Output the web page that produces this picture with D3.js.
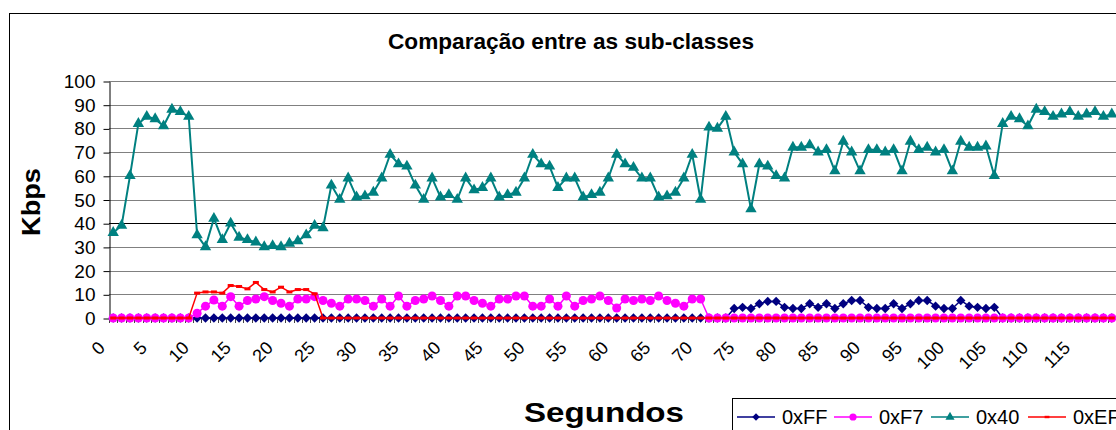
<!DOCTYPE html>
<html>
<head>
<meta charset="utf-8">
<script src="https://cdn.jsdelivr.net/npm/d3@7"></script>
<style>
  body { margin: 0; background: #fff; }
  svg { display: block; }
</style>
</head>
<body>
<script>
'use strict';

// seconds on the category axis
const seconds = [
  0, 1, 2, 3, 4, 5, 6, 7, 8, 9, 10, 11, 12, 13, 14, 15, 16, 17, 18, 19,
  20, 21, 22, 23, 24, 25, 26, 27, 28, 29, 30, 31, 32, 33, 34, 35, 36, 37, 38, 39,
  40, 41, 42, 43, 44, 45, 46, 47, 48, 49, 50, 51, 52, 53, 54, 55, 56, 57, 58, 59,
  60, 61, 62, 63, 64, 65, 66, 67, 68, 69, 70, 71, 72, 73, 74, 75, 76, 77, 78, 79,
  80, 81, 82, 83, 84, 85, 86, 87, 88, 89, 90, 91, 92, 93, 94, 95, 96, 97, 98, 99,
  100, 101, 102, 103, 104, 105, 106, 107, 108, 109, 110, 111, 112, 113, 114, 115, 116, 117, 118, 119
];
const xTickLabels = [0, 5, 10, 15, 20, 25, 30, 35, 40, 45, 50, 55, 60, 65, 70, 75, 80, 85, 90, 95, 100, 105, 110, 115];
const yTicks = [0, 10, 20, 30, 40, 50, 60, 70, 80, 90, 100];

// Kbps per sub-class
const valuesFF = [
  0, 0, 0, 0, 0, 0, 0, 0, 0, 0,
  0, 0, 0, 0, 0, 0, 0, 0, 0, 0,
  0, 0, 0, 0, 0, 0, 0, 0, 0, 0,
  0, 0, 0, 0, 0, 0, 0, 0, 0, 0,
  0, 0, 0, 0, 0, 0, 0, 0, 0, 0,
  0, 0, 0, 0, 0, 0, 0, 0, 0, 0,
  0, 0, 0, 0, 0, 0, 0, 0, 0, 0,
  0, 0, 0, 0, 4, 4.5, 4, 6, 7, 7,
  4.5, 4, 4, 6, 4.5, 6, 4, 6, 7.4, 7.4,
  4.5, 4, 4, 6, 4, 6, 7.4, 7.4, 5, 4,
  4, 7.4, 5, 4.5, 4, 4.5, 0, 0, 0, 0,
  0, 0, 0, 0, 0, 0, 0, 0, 0, 0
];
const valuesF7 = [
  0, 0, 0, 0, 0, 0, 0, 0, 0, 0,
  2, 5, 7.6, 5, 9, 5, 7.4, 8, 9, 7.4,
  6.2, 5, 8, 8, 9, 7.4, 6.2, 5, 8, 8,
  7.4, 5, 8, 5, 9.3, 5, 7.4, 8, 9.3, 7.4,
  5, 9.3, 9.3, 7.4, 6.2, 5, 8, 8, 9.3, 9.3,
  5, 5, 8, 5, 9.3, 5, 7.4, 8, 9.3, 7.4,
  4.2, 8, 7.4, 8, 7.4, 9.3, 7.4, 6.2, 5, 8,
  8, 0, 0, 0, 0, 0, 0, 0, 0, 0,
  0, 0, 0, 0, 0, 0, 0, 0, 0, 0,
  0, 0, 0, 0, 0, 0, 0, 0, 0, 0,
  0, 0, 0, 0, 0, 0, 0, 0, 0, 0,
  0, 0, 0, 0, 0, 0, 0, 0, 0, 0
];
const values40 = [
  36, 39, 60, 82, 85, 84, 81, 88, 87, 85,
  35, 30, 42, 33, 40, 34, 33, 32, 30, 30.5,
  30, 31.5, 32.5, 35, 39, 38, 56, 50, 59, 51,
  51.5, 53, 59, 69, 65, 64, 56, 50, 59, 51,
  52, 50, 59, 54, 55, 59, 51, 52, 53, 59,
  69, 65, 64, 55, 59, 59, 51, 52, 53, 59,
  69, 65, 63.5, 59, 59, 51, 51.5, 53, 59, 69,
  50, 80.5, 80, 85, 70, 65, 46, 65, 64, 60,
  59, 72, 72, 73, 70, 71, 62, 74.5, 70, 62,
  71, 71, 70, 71, 62, 74.5, 71, 72, 70, 71,
  62, 74.5, 72, 72, 72.5, 60, 82, 85, 84, 81,
  88, 87, 85, 86, 87, 85, 86, 87, 85, 86
];
const valuesEF = [
  0, 0, 0, 0, 0, 0, 0, 0, 0, 0,
  10.5, 11, 11, 10.5, 13.7, 13.3, 12.3, 15, 12, 11,
  13, 11, 12, 12, 10.2, 0, 0, 0, 0, 0,
  0, 0, 0, 0, 0, 0, 0, 0, 0, 0,
  0, 0, 0, 0, 0, 0, 0, 0, 0, 0,
  0, 0, 0, 0, 0, 0, 0, 0, 0, 0,
  0, 0, 0, 0, 0, 0, 0, 0, 0, 0,
  0, 0, 0, 0, 0, 0, 0, 0, 0, 0,
  0, 0, 0, 0, 0, 0, 0, 0, 0, 0,
  0, 0, 0, 0, 0, 0, 0, 0, 0, 0,
  0, 0, 0, 0, 0, 0, 0, 0, 0, 0,
  0, 0, 0, 0, 0, 0, 0, 0, 0, 0
];
const seriesNames = ["0xFF", "0xF7", "0x40", "0xEF"];

function createChart(width, height) {
    let font = "'Liberation Sans', Arial, sans-serif";

    let svg = d3.create("svg")
        .attr("width", width)
        .attr("height", height)
        .style("font-family", font);

    svg.append("rect")
        .attr("width", width).attr("height", height)
        .attr("fill", "#fff");

    // chart frame, runs off the right and bottom of the picture
    svg.append("rect")
        .attr("x", 9.5).attr("y", 13.5)
        .attr("width", 1200).attr("height", 500)
        .attr("fill", "#fff")
        .attr("stroke", "#000");

    let left = 109, right = 1116, top = 81, bottom = 318;

    let x = d3.scaleBand().domain(seconds).range([left, right]).padding(0);
    let cx = function(s) { return x(s) + x.bandwidth() / 2; };
    let y = d3.scaleLinear().domain([0, 100]).range([bottom, top]);

    // gridlines
    svg.append("g")
        .selectAll("line")
        .data(yTicks.filter(function(d) { return d > 0; }))
        .enter().append("line")
        .attr("x1", left).attr("x2", right)
        .attr("y1", function(d) { return Math.round(y(d)) + 0.5; })
        .attr("y2", function(d) { return Math.round(y(d)) + 0.5; })
        .attr("stroke", function(d) { return d === 40 ? "#000" : "#808080"; });

    // y axis
    let yAxis = svg.append("g")
        .attr("transform", "translate(" + (left + 0.5) + ",0.5)")
        .call(d3.axisLeft(y).tickValues(yTicks).tickSizeInner(6).tickSizeOuter(0).tickPadding(8));
    yAxis.select(".domain").attr("stroke", "#000");
    yAxis.selectAll("text").style("font-size", "19px").attr("fill", "#000").style("font-family", font);

    // x axis line and category ticks (between categories)
    svg.append("line")
        .attr("x1", left).attr("x2", right)
        .attr("y1", bottom + 0.5).attr("y2", bottom + 0.5)
        .attr("stroke", "#000");
    svg.append("g")
        .selectAll("line")
        .data(seconds)
        .enter().append("line")
        .attr("x1", function(d) { return Math.round(x(d)) + 0.5; })
        .attr("x2", function(d) { return Math.round(x(d)) + 0.5; })
        .attr("y1", bottom).attr("y2", bottom + 5)
        .attr("stroke", "#444");

    svg.append("g")
        .selectAll("text")
        .data(xTickLabels)
        .enter().append("text")
        .attr("transform", function(d) {
            return "translate(" + (cx(d) - 7) + "," + 349 + ") rotate(-45)";
        })
        .attr("text-anchor", "end")
        .style("font-size", "18px")
        .text(function(d) { return d; });

    // series: line + marker
    let color = d3.scaleOrdinal().domain(seriesNames)
        .range(["#000080", "#ff00ff", "#008080", "#ff0000"]);
    let widths = { "0xFF": 1.5, "0xF7": 1.5, "0x40": 2, "0xEF": 1.5 };
    let markers = {
        "0xFF": d3.symbol().type(d3.symbolSquare).size(44),
        "0xF7": d3.symbol().type(d3.symbolCircle).size(64),
        "0x40": d3.symbol().type(d3.symbolTriangle).size(56),
        "0xEF": null
    };
    let rotations = { "0xFF": 45, "0xF7": 0, "0x40": 0, "0xEF": 0 };
    let seriesData = [valuesFF, valuesF7, values40, valuesEF];

    function drawMarker(g, name, scale) {
        if (name === "0xEF") {
            g.append("rect")
                .attr("x", -3 * scale).attr("y", -1.5 * scale)
                .attr("width", 6 * scale).attr("height", 3 * scale)
                .attr("fill", color(name));
        } else {
            g.append("path")
                .attr("d", markers[name]())
                .attr("transform", "rotate(" + rotations[name] + ") scale(" + scale + ")")
                .attr("fill", color(name));
        }
    }

    let line = d3.line()
        .x(function(d, i) { return cx(seconds[i]); })
        .y(function(d) { return y(d); });

    seriesNames.forEach(function(name, k) {
        let g = svg.append("g").attr("class", "series");
        g.append("path")
            .attr("d", line(seriesData[k]))
            .attr("fill", "none")
            .attr("stroke", color(name))
            .attr("stroke-width", widths[name])
            .attr("stroke-linejoin", "round");
        g.selectAll("g")
            .data(seriesData[k])
            .enter().append("g")
            .attr("transform", function(d, i) {
                return "translate(" + cx(seconds[i]) + "," + y(d) + ")";
            })
            .each(function() { drawMarker(d3.select(this), name, 1); });
    });

    // title and axis titles
    svg.append("text")
        .attr("x", 571).attr("y", 49)
        .attr("text-anchor", "middle")
        .attr("textLength", 366).attr("lengthAdjust", "spacingAndGlyphs")
        .style("font-size", "22px").style("font-weight", "bold")
        .text("Comparação entre as sub-classes");

    svg.append("text")
        .attr("transform", "translate(40,202) rotate(-90)")
        .attr("text-anchor", "middle")
        .attr("textLength", 68).attr("lengthAdjust", "spacingAndGlyphs")
        .style("font-size", "25px").style("font-weight", "bold")
        .text("Kbps");

    svg.append("text")
        .attr("x", 604).attr("y", 422)
        .attr("text-anchor", "middle")
        .attr("textLength", 160).attr("lengthAdjust", "spacingAndGlyphs")
        .style("font-size", "28px").style("font-weight", "bold")
        .text("Segundos");

    // legend
    let legend = svg.append("g");
    legend.append("rect")
        .attr("x", 732.5).attr("y", 398.5)
        .attr("width", 500).attr("height", 100)
        .attr("fill", "#fff").attr("stroke", "#000");
    let item = legend.selectAll("g.item")
        .data(seriesNames)
        .enter().append("g")
        .attr("class", "item")
        .attr("transform", function(d, i) { return "translate(" + (737 + i * 97) + ",417)"; });
    item.append("line")
        .attr("x1", 0).attr("x2", 38)
        .attr("stroke", function(d) { return color(d); })
        .attr("stroke-width", 1.5);
    item.append("g")
        .attr("transform", "translate(19,0)")
        .each(function(d) { drawMarker(d3.select(this), d, 0.8); });
    item.append("text")
        .attr("x", 45).attr("y", 7)
        .style("font-size", "20px")
        .text(function(d) { return d; });

    return svg.node();
}

document.body.appendChild(createChart(1116, 430));
</script>
</body>
</html>
